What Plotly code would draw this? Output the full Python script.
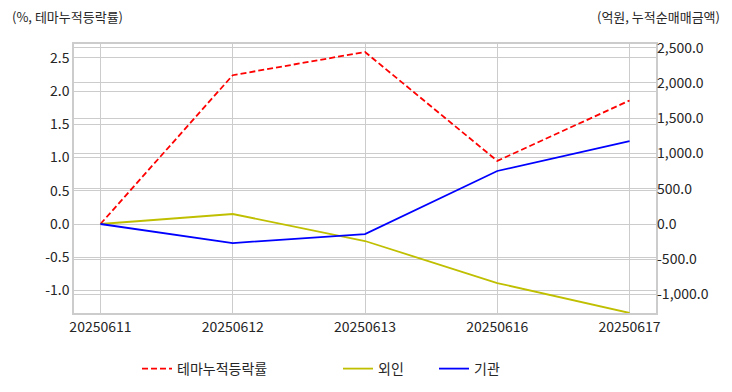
import plotly.graph_objects as go

dates = ["20250611", "20250612", "20250613", "20250616", "20250617"]
theme_pct = [0.0, 2.24, 2.59, 0.95, 1.86]
foreign = [0.0, 142.0, -241.0, -837.0, -1262.0]
institution = [0.0, -270.0, -142.0, 752.0, 1177.0]

left_ticks = [-1.0, -0.5, 0.0, 0.5, 1.0, 1.5, 2.0, 2.5]
left_ticktext = ["-1.0", "-0.5", "0.0", "0.5", "1.0", "1.5", "2.0", "2.5"]
right_ticks = [-1000, -500, 0, 500, 1000, 1500, 2000, 2500]
right_ticktext = ["-1,000.0", "-500.0", "0.0", "500.0", "1,000.0", "1,500.0", "2,000.0", "2,500.0"]

FONT = "Noto Sans CJK KR, Noto Sans, sans-serif"
TXT = "#262626"
GRID = "#cccccc"

fig = go.Figure()
fig.add_trace(go.Scatter(x=dates, y=theme_pct, name="테마누적등락률", mode="lines",
                         line=dict(color="#ff0000", width=1.8, dash="6px,3px"),
                         yaxis="y", legend="legend", showlegend=True))
fig.add_trace(go.Scatter(x=dates, y=foreign, name="외인", mode="lines",
                         line=dict(color="#bfbf00", width=1.8),
                         yaxis="y2", legend="legend2", showlegend=True))
fig.add_trace(go.Scatter(x=dates, y=institution, name="기관", mode="lines",
                         line=dict(color="#0000ff", width=1.8),
                         yaxis="y2", legend="legend3", showlegend=True))

pw = 582.0
ph = 269.0
def px_x(p):
    return (p - 74) / pw
def px_y(p):
    return (313 - p) / ph

leg_common = dict(orientation="h", yanchor="middle", xanchor="left",
                  font=dict(family=FONT, size=14, color=TXT),
                  bgcolor="rgba(0,0,0,0)", borderwidth=0)

fig.update_layout(
    width=732, height=392,
    margin=dict(l=74, r=76, t=44, b=79, autoexpand=False),
    showlegend=True,
    paper_bgcolor="white", plot_bgcolor="white",
    font=dict(family=FONT, size=14, color=TXT),
    xaxis=dict(type="category", range=[-0.2, 4.2], showgrid=True, gridcolor=GRID, gridwidth=1,
               showline=True, mirror=True, linecolor=GRID, linewidth=1.5,
               ticks="", tickfont=dict(family=FONT, size=14, color=TXT), zeroline=False),
    yaxis=dict(range=[-1.34, 2.71], tickvals=left_ticks, ticktext=left_ticktext,
               showgrid=True, gridcolor=GRID, gridwidth=1, zeroline=False,
               showline=True, mirror=True, linecolor=GRID, linewidth=1.5, ticks="",
               tickfont=dict(family=FONT, size=14, color=TXT)),
    yaxis2=dict(range=[-1262, 2553], tickvals=right_ticks, ticktext=right_ticktext,
                overlaying="y", side="right", showgrid=True, gridcolor=GRID, gridwidth=1,
                zeroline=False, ticks="", tickfont=dict(family=FONT, size=14, color=TXT)),
    legend=dict(x=px_x(137), y=px_y(369), **leg_common),
    legend2=dict(x=px_x(338), y=px_y(369), **leg_common),
    legend3=dict(x=px_x(434), y=px_y(369), **leg_common),
    annotations=[
        dict(text="(%, 테마누적등락률)", xref="paper", yref="paper", x=px_x(10), y=px_y(16),
             xanchor="left", yanchor="middle", showarrow=False,
             font=dict(family=FONT, size=13, color=TXT)),
        dict(text="(억원, 누적순매매금액)", xref="paper", yref="paper", x=px_x(722), y=px_y(16),
             xanchor="right", yanchor="middle", showarrow=False,
             font=dict(family=FONT, size=13, color=TXT)),
    ],
)

fig.write_html("out.html", config={"displayModeBar": False},
               post_script="document.body.style.margin='0';")
